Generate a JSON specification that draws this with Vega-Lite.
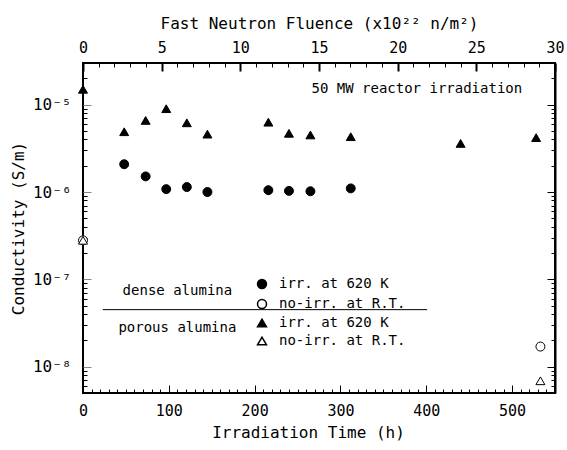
{
  "$schema": "https://vega.github.io/schema/vega-lite/v6.json",
  "width": 472,
  "height": 330,
  "autosize": {"type": "none"},
  "padding": {"left": 83, "top": 63, "right": 12, "bottom": 57},
  "background": "white",
  "config": {
    "view": {"stroke": "black", "strokeWidth": 2, "fill": "transparent"},
    "font": "DejaVu Sans Mono",
    "axis": {
      "grid": false,
      "labelFlush": false,
      "labelColor": "black",
      "titleColor": "black",
      "labelFont": "DejaVu Sans Mono",
      "titleFont": "DejaVu Sans Mono",
      "labelFontSize": 15,
      "titleFontSize": 16,
      "titleFontWeight": "normal"
    },
    "text": {"font": "DejaVu Sans Mono"}
  },
  "datasets": {
    "pts": [
      {"h": 48, "v": 2.08e-6, "series": "dense irr"},
      {"h": 73, "v": 1.51e-6, "series": "dense irr"},
      {"h": 97, "v": 1.08e-6, "series": "dense irr"},
      {"h": 121, "v": 1.14e-6, "series": "dense irr"},
      {"h": 145, "v": 1.0e-6, "series": "dense irr"},
      {"h": 216, "v": 1.05e-6, "series": "dense irr"},
      {"h": 240, "v": 1.03e-6, "series": "dense irr"},
      {"h": 265, "v": 1.02e-6, "series": "dense irr"},
      {"h": 312, "v": 1.1e-6, "series": "dense irr"},
      {"h": 0, "v": 2.8e-7, "series": "dense no-irr"},
      {"h": 533, "v": 1.7e-8, "series": "dense no-irr"},
      {"h": 0, "v": 1.5e-5, "series": "porous irr"},
      {"h": 48, "v": 4.9e-6, "series": "porous irr"},
      {"h": 73, "v": 6.6e-6, "series": "porous irr"},
      {"h": 97, "v": 9.0e-6, "series": "porous irr"},
      {"h": 121, "v": 6.2e-6, "series": "porous irr"},
      {"h": 145, "v": 4.6e-6, "series": "porous irr"},
      {"h": 216, "v": 6.3e-6, "series": "porous irr"},
      {"h": 240, "v": 4.7e-6, "series": "porous irr"},
      {"h": 265, "v": 4.5e-6, "series": "porous irr"},
      {"h": 312, "v": 4.3e-6, "series": "porous irr"},
      {"h": 440, "v": 3.6e-6, "series": "porous irr"},
      {"h": 528, "v": 4.2e-6, "series": "porous irr"},
      {"h": 0, "v": 2.8e-7, "series": "porous no-irr"},
      {"h": 533, "v": 6.9e-9, "series": "porous no-irr"}
    ],
    "fl": [{"f": 0, "v": 1e-6}, {"f": 30, "v": 1e-6}],
    "notes": [
      {"h": 110, "v": 7.3e-8, "label": "dense alumina"},
      {"h": 110, "v": 2.75e-8, "label": "porous alumina"},
      {"h": 389, "v": 1.5e-5, "label": "50 MW reactor irradiation"}
    ],
    "divider": [{"h1": 23, "h2": 401, "v": 4.5e-8}]
  },
  "layer": [
    {
      "data": {"name": "divider"},
      "mark": {"type": "rule", "color": "black", "strokeWidth": 1},
      "encoding": {
        "x": {"field": "h1", "type": "quantitative", "scale": {"domain": [0, 550]}, "axis": null},
        "x2": {"field": "h2"},
        "y": {"field": "v", "type": "quantitative", "scale": {"type": "log", "domain": [5e-9, 3e-5]}, "axis": null}
      }
    },
    {
      "data": {"name": "notes"},
      "mark": {"type": "text", "fontSize": 14, "color": "black", "align": "center", "baseline": "middle"},
      "encoding": {
        "x": {"field": "h", "type": "quantitative", "scale": {"domain": [0, 550]}, "axis": null},
        "y": {"field": "v", "type": "quantitative", "scale": {"type": "log", "domain": [5e-9, 3e-5]}, "axis": null},
        "text": {"field": "label"}
      }
    },
    {
      "data": {"name": "fl"},
      "mark": {"type": "point", "opacity": 0},
      "encoding": {
        "x": {"field": "f", "type": "quantitative", "scale": {"domain": [0, 30]},
          "axis": {"orient": "top", "domain": false, "tickColor": "black", "tickWidth": 2, "values": [0, 5, 10, 15, 20, 25, 30], "offset": -8, "tickSize": 8, "labelPadding": 8, "title": "Fast Neutron Fluence (x10²² n/m²)", "titlePadding": 9}},
        "y": {"field": "v", "type": "quantitative", "scale": {"type": "log", "domain": [5e-9, 3e-5]},
          "axis": {"orient": "right", "domainColor": "black", "domainWidth": 2, "tickColor": "black", "values": [1e-8, 1e-7, 1e-6, 1e-5], "tickSize": -8, "labels": false, "title": null}}
      }
    },
    {
      "data": {"name": "fl"},
      "mark": {"type": "point", "opacity": 0},
      "encoding": {
        "x": {"field": "f", "type": "quantitative", "scale": {"domain": [0, 30]},
          "axis": {"orient": "top", "domain": false, "tickColor": "black", "values": [1,2,3,4,6,7,8,9,11,12,13,14,16,17,18,19,21,22,23,24,26,27,28,29], "offset": -4, "tickSize": 4, "labels": false, "title": null}},
        "y": {"field": "v", "type": "quantitative", "scale": {"type": "log", "domain": [5e-9, 3e-5]},
          "axis": {"orient": "right", "domain": false, "tickColor": "black", "values": [6e-9, 7e-9, 8e-9, 9e-9, 2e-8, 3e-8, 4e-8, 5e-8, 6e-8, 7e-8, 8e-8, 9e-8, 2e-7, 3e-7, 4e-7, 5e-7, 6e-7, 7e-7, 8e-7, 9e-7, 2e-6, 3e-6, 4e-6, 5e-6, 6e-6, 7e-6, 8e-6, 9e-6, 2e-5], "offset": -4, "tickSize": 4, "labels": false, "title": null}}
      }
    },
    {
      "data": {"name": "pts"},
      "mark": {"type": "point", "opacity": 0},
      "encoding": {
        "x": {"field": "h", "type": "quantitative", "scale": {"domain": [0, 550]},
          "axis": {"orient": "bottom", "domain": false, "tickColor": "black", "values": [10,20,30,40,50,60,70,80,90,110,120,130,140,150,160,170,180,190,210,220,230,240,250,260,270,280,290,310,320,330,340,350,360,370,380,390,410,420,430,440,450,460,470,480,490,510,520,530,540], "offset": -4, "tickSize": 4, "labels": false, "title": null}},
        "y": {"field": "v", "type": "quantitative", "scale": {"type": "log", "domain": [5e-9, 3e-5]},
          "axis": {"orient": "left", "domain": false, "tickColor": "black", "values": [6e-9, 7e-9, 8e-9, 9e-9, 2e-8, 3e-8, 4e-8, 5e-8, 6e-8, 7e-8, 8e-8, 9e-8, 2e-7, 3e-7, 4e-7, 5e-7, 6e-7, 7e-7, 8e-7, 9e-7, 2e-6, 3e-6, 4e-6, 5e-6, 6e-6, 7e-6, 8e-6, 9e-6, 2e-5], "offset": -4, "tickSize": 4, "labels": false, "title": null}}
      }
    },
    {
      "data": {"name": "pts"},
      "mark": {"type": "point", "filled": true, "size": 80, "stroke": "black", "strokeWidth": 1, "opacity": 1},
      "encoding": {
        "x": {"field": "h", "type": "quantitative", "scale": {"domain": [0, 550]},
          "axis": {"orient": "bottom", "domain": false, "tickColor": "black", "values": [0, 100, 200, 300, 400, 500], "offset": -8, "tickSize": 8, "labelPadding": 10, "title": "Irradiation Time (h)", "titlePadding": 6, "titleX": 225}},
        "y": {"field": "v", "type": "quantitative", "scale": {"type": "log", "domain": [5e-9, 3e-5]},
          "axis": {"orient": "left", "domain": false, "values": [1e-8, 1e-7, 1e-6, 1e-5], "offset": -8, "tickSize": 8, "labelPadding": 12, "labelFontSize": 16,
            "labelExpr": "'10' + (round(log(datum.value)/LN10) == -5 ? '⁻⁵' : round(log(datum.value)/LN10) == -6 ? '⁻⁶' : round(log(datum.value)/LN10) == -7 ? '⁻⁷' : '⁻⁸')",
            "title": "Conductivity (S/m)", "titlePadding": 6}},
        "shape": {"field": "series", "type": "nominal",
          "scale": {"domain": ["dense irr", "dense no-irr", "porous irr", "porous no-irr"], "range": ["circle", "circle", "triangle-up", "triangle-up"]},
          "legend": {"orient": "none", "legendX": 172, "legendY": 214, "title": null, "padding": 0, "symbolSize": 80, "labelFontSize": 14, "labelFont": "DejaVu Sans Mono", "labelColor": "black", "labelOffset": 10, "rowPadding": 4,
            "labelExpr": "indexof(datum.label, 'no-irr') >= 0 ? 'no-irr. at R.T.' : 'irr. at 620 K'",
            "encode": {"symbols": {"update": {"stroke": {"value": "black"}, "strokeWidth": {"value": 1}}}}}},
        "fill": {"field": "series", "type": "nominal",
          "scale": {"domain": ["dense irr", "dense no-irr", "porous irr", "porous no-irr"], "range": ["black", "white", "black", "white"]},
          "legend": {"orient": "none", "legendX": 172, "legendY": 214, "title": null, "padding": 0, "symbolSize": 80, "labelFontSize": 14, "labelFont": "DejaVu Sans Mono", "labelColor": "black", "labelOffset": 10, "rowPadding": 4,
            "labelExpr": "indexof(datum.label, 'no-irr') >= 0 ? 'no-irr. at R.T.' : 'irr. at 620 K'",
            "encode": {"symbols": {"update": {"stroke": {"value": "black"}, "strokeWidth": {"value": 1}}}}}}
      }
    }
  ],
  "resolve": {
    "scale": {"x": "independent", "y": "independent"},
    "axis": {"x": "independent", "y": "independent"}
  }
}
